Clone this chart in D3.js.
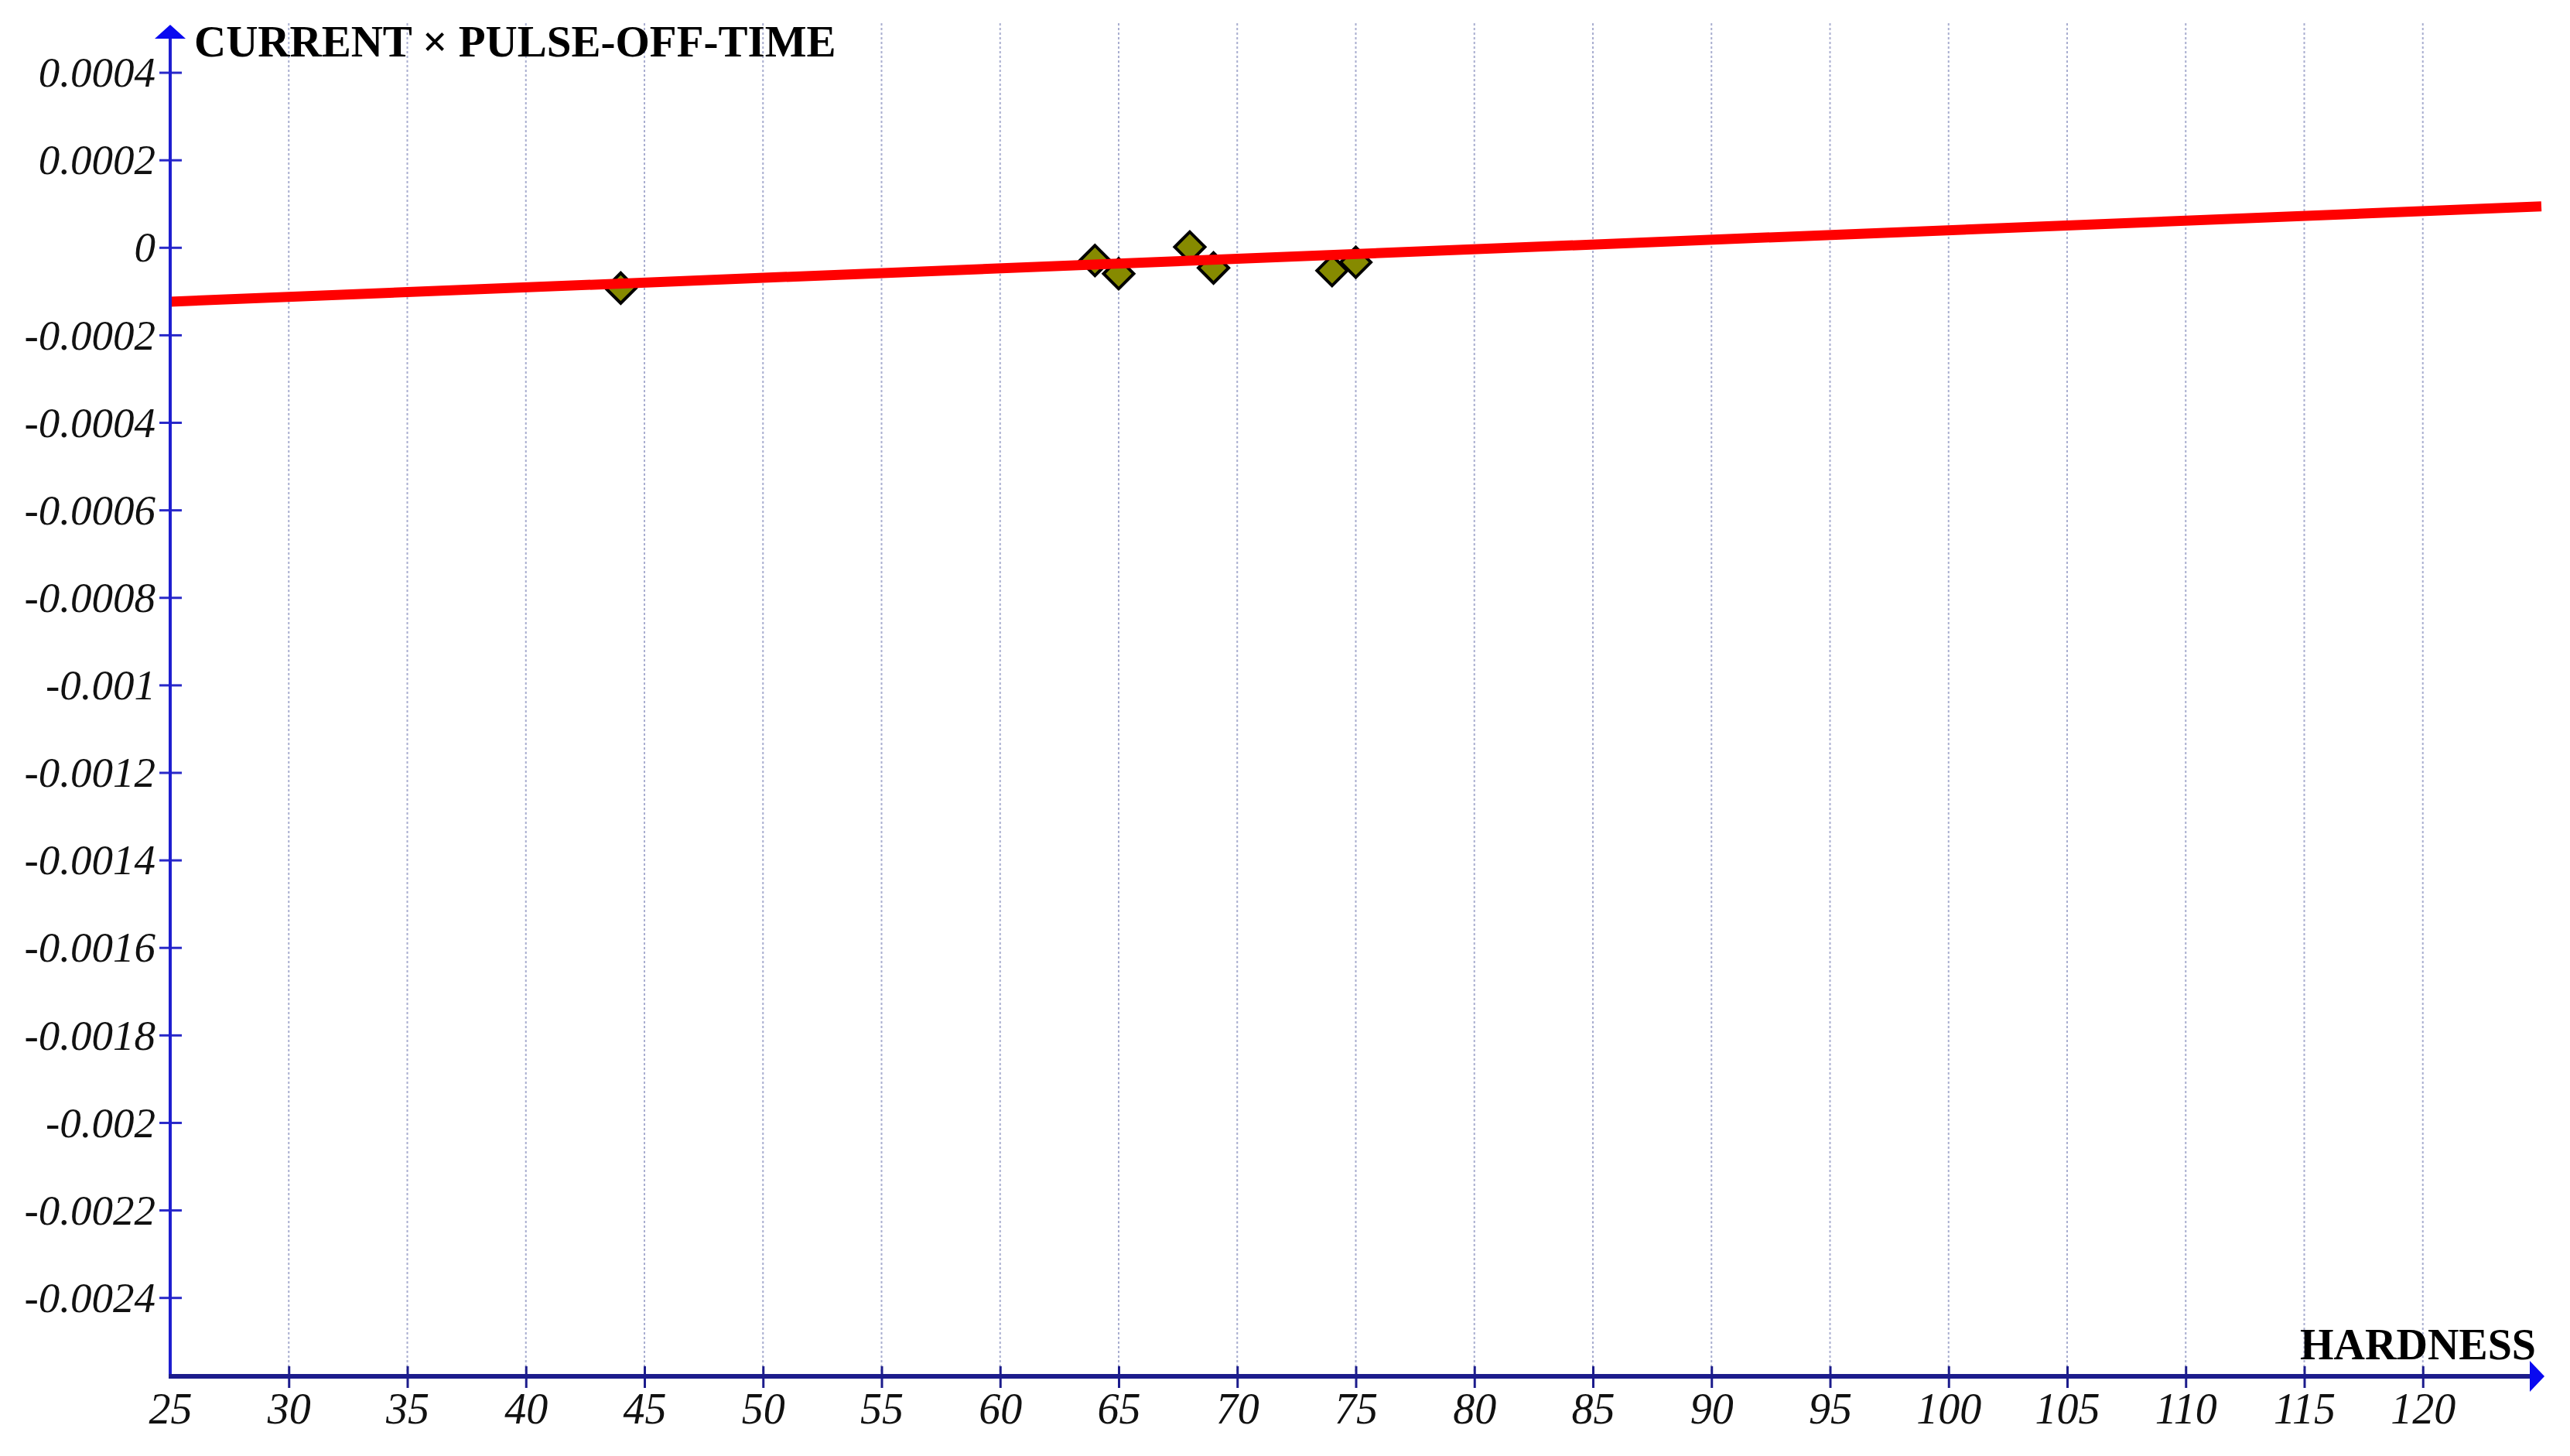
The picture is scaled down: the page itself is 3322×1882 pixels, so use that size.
<!DOCTYPE html>
<html>
<head>
<meta charset="utf-8">
<script src="https://cdn.jsdelivr.net/npm/d3@7"></script>
<style>
  html, body { margin: 0; padding: 0; background: #ffffff; }
  svg { display: block; }
</style>
</head>
<body>
<svg id="chart" width="3322" height="1882"></svg>
<script>
// ---- data ----
const hardness = [44, 64, 65, 68, 69, 74, 75];
const currentPulseOff = [-0.000093, -0.000030, -0.000060, 0.000001, -0.000047, -0.000053, -0.000034];
const fitX = [25, 125];
const fitY = [-0.000124, 0.0000937];
const xTicks = [25, 30, 35, 40, 45, 50, 55, 60, 65, 70, 75, 80, 85, 90, 95, 100, 105, 110, 115, 120];
const yTicks = [0.0004, 0.0002, 0, -0.0002, -0.0004, -0.0006, -0.0008, -0.001, -0.0012, -0.0014, -0.0016, -0.0018, -0.002, -0.0022, -0.0024];
const yTickLabels = ["0.0004", "0.0002", "0", "-0.0002", "-0.0004", "-0.0006", "-0.0008", "-0.001", "-0.0012", "-0.0014", "-0.0016", "-0.0018", "-0.002", "-0.0022", "-0.0024"];
const xTitle = "HARDNESS";
const yTitle = "CURRENT \u00D7 PULSE-OFF-TIME";

// ---- layout ----
const svg = d3.select("#chart");
const x = d3.scaleLinear().domain([25, 125]).range([220, 3285]);
const y = d3.scaleLinear().domain([-0.00258, 0.0005]).range([1779, 37]);
const x0 = x(25), y0 = y(-0.00258);
const serif = "'Liberation Serif', 'Times New Roman', serif";

// vertical dotted grid lines
svg.append("g").selectAll("line")
  .data(xTicks.filter(d => d > 25))
  .join("line")
  .attr("x1", d => x(d)).attr("x2", d => x(d))
  .attr("y1", 30).attr("y2", y0)
  .attr("stroke", "#a9aed0")
  .attr("stroke-width", 2)
  .attr("stroke-dasharray", "3,3");

// data points (drawn beneath the fit line)
svg.append("g").selectAll("path")
  .data(hardness.map((h, i) => [h, currentPulseOff[i]]))
  .join("path")
  .attr("d", d3.symbol().type(d3.symbolSquare).size(760))
  .attr("transform", d => `translate(${x(d[0])},${y(d[1])}) rotate(45)`)
  .attr("fill", "#868a00")
  .attr("stroke", "#000000")
  .attr("stroke-width", 4)
  .attr("stroke-linejoin", "miter");

// regression line
svg.append("path")
  .datum(fitX.map((v, i) => [v, fitY[i]]))
  .attr("d", d3.line().x(d => x(d[0])).y(d => y(d[1])))
  .attr("fill", "none")
  .attr("stroke", "#ff0000")
  .attr("stroke-width", 13);

// y axis
const yAxis = svg.append("g")
  .attr("transform", `translate(${x0},0)`)
  .call(d3.axisLeft(y).tickValues(yTicks).tickFormat((d, i) => yTickLabels[i]).tickSize(14));
yAxis.select(".domain").remove();
yAxis.selectAll(".tick line").attr("x1", -14).attr("x2", 15).attr("stroke", "#2a2ac8").attr("stroke-width", 3);
yAxis.selectAll(".tick text")
  .attr("x", -19).attr("dy", "0.33em")
  .attr("font-family", serif).attr("font-style", "italic")
  .attr("font-size", 55).attr("fill", "#111111");
svg.append("line")
  .attr("x1", x0).attr("x2", x0).attr("y1", y0).attr("y2", 48)
  .attr("stroke", "#1e1ed0").attr("stroke-width", 4);
svg.append("path")
  .attr("d", `M${x0 - 20},${50} L${x0},${32} L${x0 + 20},${50} Z`)
  .attr("fill", "#0a0af0");

// x axis
const xAxis = svg.append("g")
  .attr("transform", `translate(0,${y0})`)
  .call(d3.axisBottom(x).tickValues(xTicks).tickFormat(d => String(d)).tickSize(14));
xAxis.select(".domain").remove();
xAxis.selectAll(".tick line").attr("y1", -13).attr("y2", 15).attr("stroke", "#1c1c8c").attr("stroke-width", 3);
xAxis.selectAll(".tick").filter(d => d === 25).select("line").remove();
xAxis.selectAll(".tick text")
  .attr("y", 61).attr("dy", 0)
  .attr("font-family", serif).attr("font-style", "italic")
  .attr("font-size", 56).attr("fill", "#111111");
svg.append("line")
  .attr("x1", x0 - 2).attr("x2", 3272).attr("y1", y0).attr("y2", y0)
  .attr("stroke", "#1c1c8c").attr("stroke-width", 6);
svg.append("path")
  .attr("d", `M3270,${y0 - 20} L3289,${y0} L3270,${y0 + 20} Z`)
  .attr("fill", "#0a0af0");

// titles
svg.append("text")
  .attr("x", 251).attr("y", 73)
  .attr("font-family", serif).attr("font-weight", "bold")
  .attr("font-size", 57).attr("fill", "#000000")
  .text(yTitle);
svg.append("text")
  .attr("x", 3278).attr("y", 1757)
  .attr("text-anchor", "end")
  .attr("font-family", serif).attr("font-weight", "bold")
  .attr("font-size", 56).attr("fill", "#000000")
  .text(xTitle);
</script>
</body>
</html>
